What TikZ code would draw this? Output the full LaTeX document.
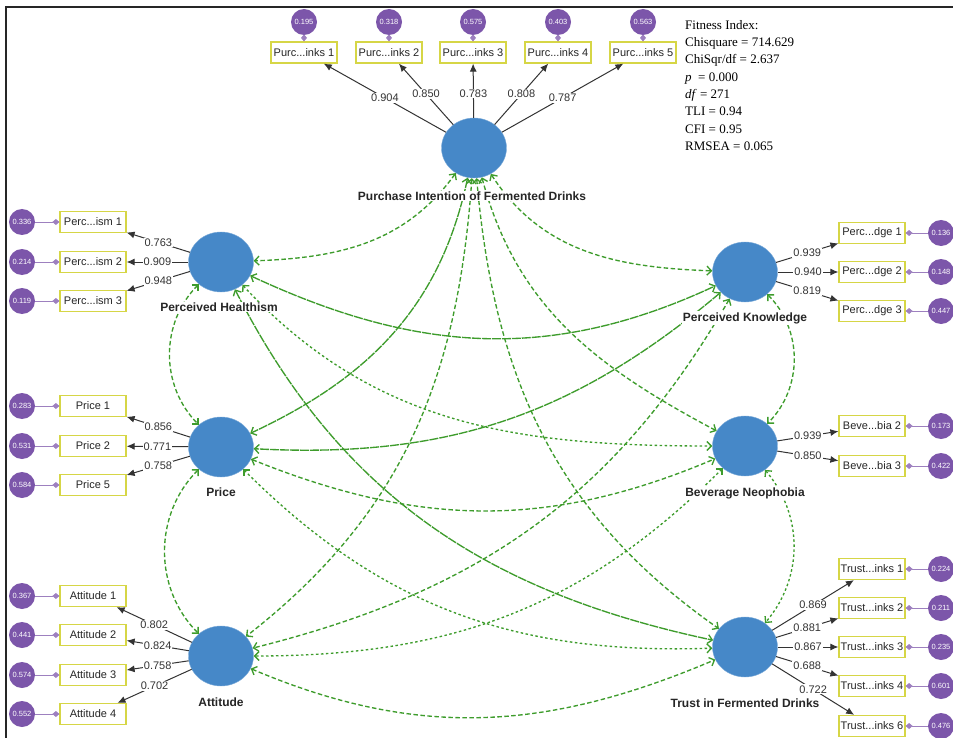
\documentclass[tikz,border=0pt]{standalone}
\usepackage{fontspec}
\setmainfont{Liberation Serif}
\setsansfont{Liberation Sans}
\usepackage{tikz}
\usetikzlibrary{arrows.meta}
\usetikzlibrary{shapes.geometric}
\tikzset{>=latex}
\definecolor{latcol}{RGB}{70,136,200}
\definecolor{errcol}{RGB}{124,86,170}
\definecolor{indcol}{RGB}{214,214,70}
\definecolor{covcol}{RGB}{62,156,44}
\tikzset{
    lat/.style={ellipse, fill=latcol, draw=latcol!70!white, minimum width=65pt, minimum height=60pt, inner sep=0pt},
    latname/.style={fill=white, inner sep=1pt, font=\sffamily\bfseries\fontsize{12}{14}\selectfont, text=black!85},
    ind/.style={rectangle, draw=indcol, line width=1.2pt, fill=white, minimum width=66pt, minimum height=21pt, inner sep=0pt, font=\sffamily\fontsize{11}{13}\selectfont, text=black!85},
    err/.style={circle, fill=errcol, minimum size=26pt, inner sep=0pt, text=white, font=\sffamily\fontsize{7.5}{9}\selectfont},
    errline/.style={draw=errcol!75!white, line width=0.9pt, -{Diamond[length=7pt,width=6pt]}},
    load/.style={draw=black!80, line width=1pt, -{Latex[length=8pt,width=7pt]}},
    lv/.style={pos=0.5, fill=white, inner sep=1pt, font=\sffamily\fontsize{11}{13}\selectfont, text=black!80},
    cov/.style={draw=covcol, line width=1.35pt, {Straight Barb[length=4.5pt,width=9pt]}-{Straight Barb[length=4.5pt,width=9pt]}},
    cvsolid/.style={cov, dash pattern=on 9pt off 1pt},
    cvdash/.style={cov, dash pattern=on 4.5pt off 2.5pt},
    cvdot/.style={cov, dash pattern=on 2.5pt off 2.5pt},
    fitidx/.style={align=left, inner sep=0pt, font=\fontsize{13}{17.3}\selectfont},
}

\begin{document}
\begin{tikzpicture}[x=1pt, y=1pt]
        \useasboundingbox (0,0) rectangle (953,-738);
        % frame
        \draw[line width=2pt, black!85] (6,-738) -- (6,-7) -- (953,-7);

        % latent variables
        \node[lat] (PI) at (474,-148) {};
        \node[lat] (PH) at (221,-262) {};
        \node[lat] (PK) at (745,-272) {};
        \node[lat] (PR) at (221,-447) {};
        \node[lat] (BN) at (745,-446) {};
        \node[lat] (AT) at (221,-656) {};
        \node[lat] (TR) at (745,-647) {};

        % fitness index
        \node[fitidx, anchor=north west] (FIT) at (685,-20) {Fitness Index:\\Chisquare = 714.629\\ChiSqr/df = 2.637\\\textit{p}\ \ = 0.000\\\textit{df} = 271\\TLI = 0.94\\CFI = 0.95\\RMSEA = 0.065};

        % Purchase Intention items
        \node[ind] (PI1) at (304,-52.5) {Purc...inks 1};
        \node[ind] (PI2) at (389,-52.5) {Purc...inks 2};
        \node[ind] (PI3) at (473,-52.5) {Purc...inks 3};
        \node[ind] (PI4) at (558,-52.5) {Purc...inks 4};
        \node[ind] (PI5) at (643,-52.5) {Purc...inks 5};
        \node[err] (ePI1) at (304,-22) {0.195};
        \node[err] (ePI2) at (389,-22) {0.318};
        \node[err] (ePI3) at (473,-22) {0.575};
        \node[err] (ePI4) at (558,-22) {0.403};
        \node[err] (ePI5) at (643,-22) {0.563};

        % Perceived Healthism items
        \node[ind] (PH1) at (93,-222) {Perc...ism 1};
        \node[ind] (PH2) at (93,-262) {Perc...ism 2};
        \node[ind] (PH3) at (93,-301) {Perc...ism 3};
        \node[err] (ePH1) at (22,-222) {0.336};
        \node[err] (ePH2) at (22,-262) {0.214};
        \node[err] (ePH3) at (22,-301) {0.119};

        % Price items
        \node[ind] (PR1) at (93,-406) {Price 1};
        \node[ind] (PR2) at (93,-446) {Price 2};
        \node[ind] (PR5) at (93,-485) {Price 5};
        \node[err] (ePR1) at (22,-406) {0.283};
        \node[err] (ePR2) at (22,-446) {0.531};
        \node[err] (ePR5) at (22,-485) {0.584};

        % Attitude items
        \node[ind] (AT1) at (93,-596) {Attitude 1};
        \node[ind] (AT2) at (93,-635) {Attitude 2};
        \node[ind] (AT3) at (93,-675) {Attitude 3};
        \node[ind] (AT4) at (93,-714) {Attitude 4};
        \node[err] (eAT1) at (22,-596) {0.367};
        \node[err] (eAT2) at (22,-635) {0.441};
        \node[err] (eAT3) at (22,-675) {0.574};
        \node[err] (eAT4) at (22,-714) {0.552};

        % Perceived Knowledge items
        \node[ind] (PK1) at (872,-233) {Perc...dge 1};
        \node[ind] (PK2) at (872,-272) {Perc...dge 2};
        \node[ind] (PK3) at (872,-311) {Perc...dge 3};
        \node[err] (ePK1) at (941,-233) {0.136};
        \node[err] (ePK2) at (941,-272) {0.148};
        \node[err] (ePK3) at (941,-311) {0.447};

        % Beverage Neophobia items
        \node[ind] (BN2) at (872,-426) {Beve...bia 2};
        \node[ind] (BN3) at (872,-466) {Beve...bia 3};
        \node[err] (eBN2) at (941,-426) {0.173};
        \node[err] (eBN3) at (941,-466) {0.422};

        % Trust items
        \node[ind] (TR1) at (872,-569) {Trust...inks 1};
        \node[ind] (TR2) at (872,-608) {Trust...inks 2};
        \node[ind] (TR3) at (872,-647) {Trust...inks 3};
        \node[ind] (TR4) at (872,-686) {Trust...inks 4};
        \node[ind] (TR6) at (872,-726) {Trust...inks 6};
        \node[err] (eTR1) at (941,-569) {0.224};
        \node[err] (eTR2) at (941,-608) {0.211};
        \node[err] (eTR3) at (941,-647) {0.235};
        \node[err] (eTR4) at (941,-686) {0.601};
        \node[err] (eTR6) at (941,-726) {0.476};

        % errors to items
        \draw[errline] (ePI1) -- (PI1);
        \draw[errline] (ePI2) -- (PI2);
        \draw[errline] (ePI3) -- (PI3);
        \draw[errline] (ePI4) -- (PI4);
        \draw[errline] (ePI5) -- (PI5);
        \draw[errline] (ePH1) -- (PH1);
        \draw[errline] (ePH2) -- (PH2);
        \draw[errline] (ePH3) -- (PH3);
        \draw[errline] (ePR1) -- (PR1);
        \draw[errline] (ePR2) -- (PR2);
        \draw[errline] (ePR5) -- (PR5);
        \draw[errline] (eAT1) -- (AT1);
        \draw[errline] (eAT2) -- (AT2);
        \draw[errline] (eAT3) -- (AT3);
        \draw[errline] (eAT4) -- (AT4);
        \draw[errline] (ePK1) -- (PK1);
        \draw[errline] (ePK2) -- (PK2);
        \draw[errline] (ePK3) -- (PK3);
        \draw[errline] (eBN2) -- (BN2);
        \draw[errline] (eBN3) -- (BN3);
        \draw[errline] (eTR1) -- (TR1);
        \draw[errline] (eTR2) -- (TR2);
        \draw[errline] (eTR3) -- (TR3);
        \draw[errline] (eTR4) -- (TR4);
        \draw[errline] (eTR6) -- (TR6);

        % loadings
        \draw[load] (PI) -- node[lv] {0.904} (PI1);
        \draw[load] (PI) -- node[lv] {0.850} (PI2);
        \draw[load] (PI) -- node[lv, pos=0.45] {0.783} (PI3);
        \draw[load] (PI) -- node[lv] {0.808} (PI4);
        \draw[load] (PI) -- node[lv] {0.787} (PI5);
        \draw[load] (PH) -- node[lv] {0.763} (PH1);
        \draw[load] (PH) -- node[lv] {0.909} (PH2);
        \draw[load] (PH) -- node[lv] {0.948} (PH3);
        \draw[load] (PR) -- node[lv] {0.856} (PR1);
        \draw[load] (PR) -- node[lv] {0.771} (PR2);
        \draw[load] (PR) -- node[lv] {0.758} (PR5);
        \draw[load] (AT) -- node[lv] {0.802} (AT1);
        \draw[load] (AT) -- node[lv] {0.824} (AT2);
        \draw[load] (AT) -- node[lv] {0.758} (AT3);
        \draw[load] (AT) -- node[lv] {0.702} (AT4);
        \draw[load] (PK) -- node[lv] {0.939} (PK1);
        \draw[load] (PK) -- node[lv] {0.940} (PK2);
        \draw[load] (PK) -- node[lv] {0.819} (PK3);
        \draw[load] (BN) -- node[lv] {0.939} (BN2);
        \draw[load] (BN) -- node[lv] {0.850} (BN3);
        \draw[load] (TR) -- node[lv] {0.869} (TR1);
        \draw[load] (TR) -- node[lv] {0.881} (TR2);
        \draw[load] (TR) -- node[lv] {0.867} (TR3);
        \draw[load] (TR) -- node[lv] {0.688} (TR4);
        \draw[load] (TR) -- node[lv] {0.722} (TR6);

        % PI to the others
        \draw[cvdash] (PI) to[out=234, in=2] (PH);
        \draw[cvdash] (PI) to[out=303, in=178] (PK);
        \draw[cvsolid] (PI) to[out=258, in=25] (PR);
        \draw[cvdash] (PI) to[out=266, in=38] (AT);
        \draw[cvdash] (PI) to[out=275, in=145] (TR);
        \draw[cvdash] (PI) to[out=285, in=152] (BN);
        % PH to PK, BN, TR, PR
        \draw[cvsolid] (PH) to[out=-25, in=205] (PK);
        \draw[cvdot] (PH) to[out=-47, in=180] (BN);
        \draw[cvsolid] (PH) to[out=-63, in=168] (TR);
        \draw[cvdash] (PH) to[out=225, in=135] (PR);
        % PK to PR, AT, BN
        \draw[cvsolid] (PK) to[out=220, in=-3] (PR);
        \draw[cvdash] (PK) to[out=240, in=14] (AT);
        \draw[cvdash] (PK) to[out=-45, in=45] (BN);
        % PR to BN, TR, AT
        \draw[cvdash] (PR) to[out=-22, in=203] (BN);
        \draw[cvdot] (PR) to[out=-45, in=182] (TR);
        \draw[cvdash] (PR) to[out=225, in=135] (AT);
        % BN to AT, TR
        \draw[cvdot] (BN) to[out=225, in=0] (AT);
        \draw[cvdot] (BN) to[out=-50, in=50] (TR);
        % AT to TR
        \draw[cvdash] (AT) to[out=-23, in=203] (TR);

        % names over the lines
        \node[latname] (PIn) at (472,-196) {Purchase Intention of Fermented Drinks};
        \node[latname] (PHn) at (219,-307) {Perceived Healthism};
        \node[latname] (PKn) at (745,-318) {Perceived Knowledge};
        \node[latname] (PRn) at (221,-492) {Price};
        \node[latname] (BNn) at (745,-493) {Beverage Neophobia};
        \node[latname] (ATn) at (221,-702) {Attitude};
        \node[latname] (TRn) at (745,-703) {Trust in Fermented Drinks};
\end{tikzpicture}
\end{document}
